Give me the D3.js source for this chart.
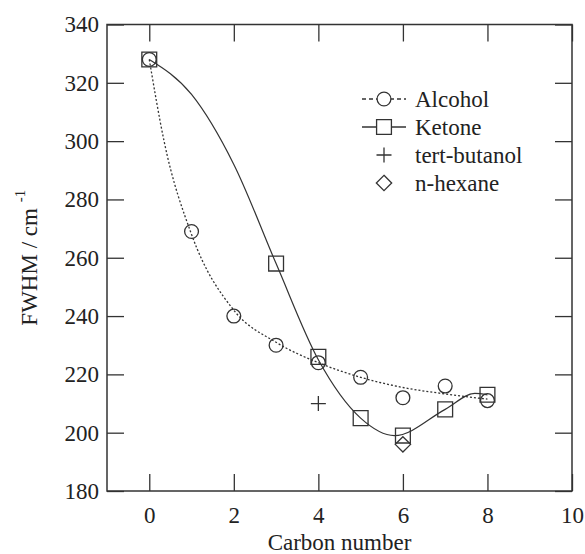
<!DOCTYPE html>
<html>
<head>
<meta charset="utf-8">
<script src="https://cdn.jsdelivr.net/npm/d3@7"></script>
<style>
  body { margin: 0; background: #fff; }
  svg text { font-family: "Liberation Serif", Tinos, "Times New Roman", Times, "DejaVu Serif", serif !important; fill: #222; }
</style>
</head>
<body>
<div id="chart-area"></div>
<script>
// measured points
var alcoholX = [0, 1, 2, 3, 4, 5, 6, 7, 8];
var alcoholY = [328, 269, 240, 230, 224, 219, 212, 216, 211];
var ketoneX = [0, 3, 4, 5, 6, 7, 8];
var ketoneY = [328, 258, 226, 205, 199, 208, 213];
var butanol = [[4, 210]];
var hexane = [[6, 196]];

// fit curves
var alcoholFitX = [0, 0.35, 1, 2, 3, 4, 5, 6, 7, 8];
var alcoholFitY = [328, 300, 268, 242, 231, 224, 219, 215.5, 213.3, 211.5];
var ketoneFitX = [0, 1, 2, 3, 4, 5, 5.8, 7, 7.7, 8];
var ketoneFitY = [328, 316, 292, 258, 225, 205, 199, 208, 213.5, 213];

var xTicks = [0, 2, 4, 6, 8, 10];
var yTicks = [180, 200, 220, 240, 260, 280, 300, 320, 340];
var legendNames = ["Alcohol", "Ketone", "tert-butanol", "n-hexane"];

var margin = { left: 107, right: 13, top: 24.5, bottom: 63 };
var width = 585 - margin.left - margin.right,
    height = 554 - margin.top - margin.bottom;

var svg = d3.select("#chart-area")
    .append("svg")
        .attr("width", 585)
        .attr("height", 554);

var g = svg.append("g")
    .attr("transform", "translate(" + margin.left + "," + margin.top + ")");

var x = d3.scaleLinear().domain([-1, 10]).range([0, width]);
var y = d3.scaleLinear().domain([180, 340]).range([height, 0]);

var ink = "#333";
var tick = 17;

// axes, ticks pointing in
var xAxisCall = d3.axisBottom(x).tickValues(xTicks).tickSizeInner(-tick).tickSizeOuter(0).tickPadding(16);
var xAxisGroup = g.append("g")
    .attr("transform", "translate(0," + height + ")")
    .call(xAxisCall);

var xTopGroup = g.append("g")
    .call(d3.axisTop(x).tickValues(xTicks).tickSizeInner(-tick).tickSizeOuter(0).tickFormat(""));

var yAxisCall = d3.axisLeft(y).tickValues(yTicks).tickSizeInner(-tick).tickSizeOuter(0).tickPadding(8);
var yAxisGroup = g.append("g").call(yAxisCall);

var yRightGroup = g.append("g")
    .attr("transform", "translate(" + width + ",0)")
    .call(d3.axisRight(y).tickValues(yTicks).tickSizeInner(-tick).tickSizeOuter(0).tickFormat(""));

g.selectAll(".domain").remove();
g.selectAll(".tick line").attr("stroke", ink).attr("stroke-width", 1.3);
g.selectAll(".tick text")
    .attr("font-size", "23px")
    .attr("fill", "#222");

// frame
g.append("rect")
    .attr("width", width)
    .attr("height", height)
    .attr("fill", "none")
    .attr("stroke", ink)
    .attr("stroke-width", 1.5);

// fit lines
var line = d3.line()
    .x(function(d){ return x(d[0]); })
    .y(function(d){ return y(d[1]); })
    .curve(d3.curveMonotoneX);

g.append("path")
    .datum(alcoholFitX.map(function(v, i){ return [v, alcoholFitY[i]]; }))
    .attr("d", line)
    .attr("fill", "none")
    .attr("stroke", ink)
    .attr("stroke-width", 1.3)
    .attr("stroke-dasharray", "2,2");

g.append("path")
    .datum(ketoneFitX.map(function(v, i){ return [v, ketoneFitY[i]]; }))
    .attr("d", line)
    .attr("fill", "none")
    .attr("stroke", ink)
    .attr("stroke-width", 1.2);

// markers
var sym = {
    circle: d3.symbol().type(d3.symbolCircle).size(150),
    square: d3.symbol().type(d3.symbolSquare).size(220),
    diamond: d3.symbol().type(d3.symbolDiamond2).size(150)
};

function plusPath(r) {
    return "M" + (-r) + ",0H" + r + "M0," + (-r) + "V" + r;
}

function drawMarks(pts, kind) {
    g.selectAll(null)
        .data(pts)
        .enter()
        .append("path")
            .attr("transform", function(d){ return "translate(" + x(d[0]) + "," + y(d[1]) + ")"; })
            .attr("d", kind === "plus" ? plusPath(7.5) : sym[kind]())
            .attr("fill", "none")
            .attr("stroke", ink)
            .attr("stroke-width", 1.3);
}

drawMarks(alcoholX.map(function(v, i){ return [v, alcoholY[i]]; }), "circle");
drawMarks(ketoneX.map(function(v, i){ return [v, ketoneY[i]]; }), "square");
drawMarks(butanol, "plus");
drawMarks(hexane, "diamond");

// legend
var legend = svg.append("g").attr("transform", "translate(384,99)");
var kinds = ["circle", "square", "plus", "diamond"];
legendNames.forEach(function(name, i){
    var row = legend.append("g").attr("transform", "translate(0," + (i * 28) + ")");
    if (i === 0) {
        row.append("line").attr("x1", -22).attr("x2", 22)
            .attr("stroke", ink).attr("stroke-width", 1.3).attr("stroke-dasharray", "4,3");
    }
    if (i === 1) {
        row.append("line").attr("x1", -22).attr("x2", 22)
            .attr("stroke", ink).attr("stroke-width", 1.3);
    }
    row.append("path")
        .attr("d", kinds[i] === "plus" ? plusPath(7.5) : sym[kinds[i]]())
        .attr("fill", i < 2 ? "#fff" : "none")
        .attr("stroke", ink)
        .attr("stroke-width", 1.3);
    row.append("text")
        .attr("x", 31)
        .attr("y", 8)
        .attr("font-size", "23px")
        .text(name);
});

// X Label
svg.append("text")
    .attr("x", margin.left + width / 2)
    .attr("y", 550)
    .attr("font-size", "23px")
    .attr("text-anchor", "middle")
    .text("Carbon number");

// Y Label
var yl = svg.append("text")
    .attr("transform", "translate(37," + (margin.top + height / 2) + ") rotate(-90)")
    .attr("font-size", "23px")
    .attr("text-anchor", "middle");
yl.append("tspan").text("FWHM / cm ");
yl.append("tspan").attr("font-size", "15px").attr("dy", "-12").text("-1");
</script>
</body>
</html>
